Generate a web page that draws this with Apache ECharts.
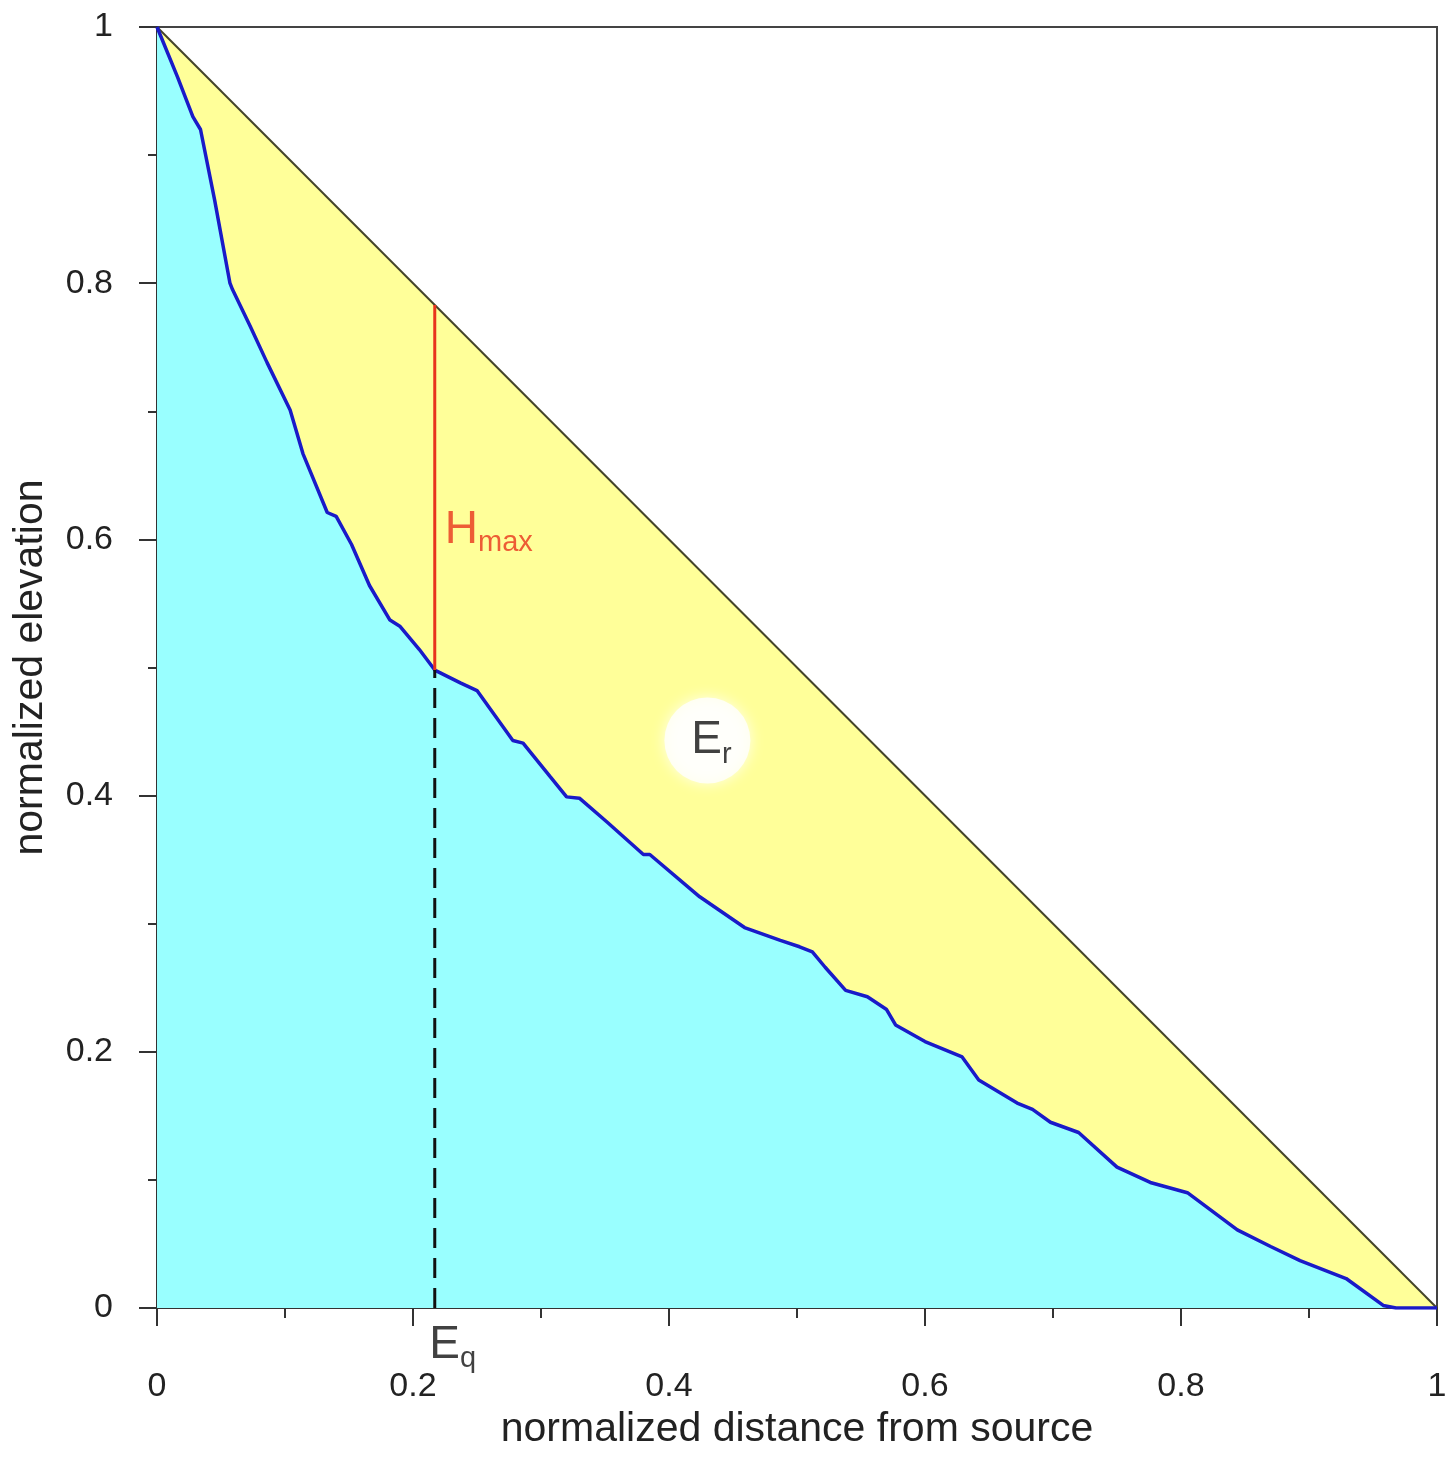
<!DOCTYPE html>
<html>
<head>
<meta charset="utf-8">
<script src="https://cdn.jsdelivr.net/npm/echarts@6/dist/echarts.min.js"></script>
<style>
  html, body { margin: 0; background: #fff; }
  #main { width: 1453px; height: 1459px; }
</style>
</head>
<body>
<div id="main"></div>
<script>
// longitudinal profile
var profileX = [0, 0.016, 0.028, 0.034, 0.045, 0.057, 0.059, 0.073, 0.086, 0.104, 0.114, 0.133,
  0.140, 0.152, 0.166, 0.182, 0.190, 0.205, 0.217, 0.237, 0.250, 0.278, 0.286, 0.307, 0.320,
  0.330, 0.352, 0.380, 0.385, 0.424, 0.459, 0.487, 0.502, 0.512, 0.522, 0.538, 0.555, 0.570,
  0.577, 0.600, 0.629, 0.642, 0.672, 0.684, 0.698, 0.720, 0.750, 0.776, 0.805, 0.844, 0.870,
  0.893, 0.929, 0.958, 0.968, 1];
var profileY = [1, 0.961, 0.930, 0.920, 0.865, 0.800, 0.795, 0.766, 0.738, 0.701, 0.667, 0.621,
  0.618, 0.596, 0.564, 0.537, 0.532, 0.514, 0.498, 0.488, 0.482, 0.443, 0.441, 0.415, 0.399,
  0.398, 0.379, 0.354, 0.354, 0.321, 0.297, 0.287, 0.282, 0.278, 0.266, 0.248, 0.243, 0.233,
  0.221, 0.208, 0.196, 0.178, 0.160, 0.155, 0.145, 0.137, 0.110, 0.098, 0.090, 0.061, 0.048,
  0.037, 0.023, 0.002, 0, 0];

// straight line from source to mouth
var lineX = [0, 1];
var lineY = [1, 0];

// Eq point and Hmax
var eqX = 0.217;
var eqY = 0.498;
var hmaxTop = 0.783;
var hmaxLabelY = 0.607;
var erPoint = [0.430, 0.443];

var font = '"Liberation Sans", Arial, sans-serif';

function pairs(xs, ys) {
  return xs.map(function (x, i) { return [x, ys[i]]; });
}

var chart = echarts.init(document.getElementById('main'));

var option = {
  animation: false,
  backgroundColor: '#fff',
  grid: {
    left: 157, right: 16, top: 27, bottom: 151,
    show: true, borderColor: '#444', borderWidth: 2
  },
  xAxis: {
    type: 'value', min: 0, max: 1, interval: 0.2,
    name: 'normalized distance from source',
    nameLocation: 'middle', nameGap: 98,
    nameTextStyle: { fontFamily: font, fontSize: 41, color: '#222' },
    axisLine: { lineStyle: { color: '#333', width: 2 } },
    axisTick: { inside: false, length: 18, lineStyle: { color: '#333', width: 2 } },
    minorTick: { show: true, splitNumber: 2, length: 10, lineStyle: { color: '#333', width: 2 } },
    splitLine: { show: false },
    axisLabel: { margin: 62, fontFamily: font, fontSize: 34, color: '#222' }
  },
  yAxis: {
    type: 'value', min: 0, max: 1, interval: 0.2,
    name: 'normalized elevation',
    nameLocation: 'middle', nameGap: 106,
    nameTextStyle: { fontFamily: font, fontSize: 41, color: '#222' },
    axisLine: { lineStyle: { color: '#333', width: 2 } },
    axisTick: { inside: false, length: 18, lineStyle: { color: '#333', width: 2 } },
    minorTick: { show: true, splitNumber: 2, length: 9, lineStyle: { color: '#333', width: 2 } },
    splitLine: { show: false },
    axisLabel: { margin: 44, fontFamily: font, fontSize: 34, color: '#222' }
  },
  series: [
    {
      // yellow triangle under the straight line
      type: 'line',
      data: pairs(lineX, lineY),
      showSymbol: false,
      lineStyle: { color: '#44442a', width: 2 },
      areaStyle: { color: '#ffff99', opacity: 1 },
      z: 1
    },
    {
      // the profile, cyan below
      type: 'line',
      data: pairs(profileX, profileY),
      showSymbol: false,
      lineStyle: { color: '#1a1ac8', width: 3.5 },
      areaStyle: { color: '#99ffff', opacity: 1 },
      z: 2
    },
    {
      // Hmax
      type: 'line',
      data: [[eqX, eqY], [eqX, hmaxTop]],
      showSymbol: false,
      lineStyle: { color: '#e8341c', width: 3 },
      z: 3
    },
    {
      // dashed drop to the axis
      type: 'line',
      data: [[eqX, 0], [eqX, eqY]],
      showSymbol: false,
      lineStyle: { color: '#111', width: 3, type: [20, 10] },
      z: 3
    },
    {
      type: 'scatter',
      symbolSize: 0,
      silent: true,
      clip: false,
      z: 5,
      data: [
        {
          value: [eqX, hmaxLabelY],
          label: {
            show: true, position: 'right', distance: 10,
            formatter: '{b|H}{s|max}',
            rich: {
              b: { fontFamily: font, fontSize: 46, color: '#e8341c' },
              s: { fontFamily: font, fontSize: 29, color: '#e8341c', padding: [26, 0, 0, 0] }
            }
          }
        },
        {
          value: [eqX, 0],
          label: {
            show: true, position: 'bottom', distance: 10, offset: [18, 0],
            formatter: '{b|E}{s|q}',
            rich: {
              b: { fontFamily: font, fontSize: 46, color: '#111' },
              s: { fontFamily: font, fontSize: 29, color: '#111', padding: [26, 0, 0, 0] }
            }
          }
        }
      ]
    },
    {
      // white disc for Er
      type: 'scatter',
      symbol: 'circle',
      symbolSize: 86,
      silent: true,
      z: 4,
      itemStyle: { color: '#fff', shadowBlur: 14, shadowColor: '#fff' },
      data: [
        {
          value: erPoint,
          label: {
            show: true, position: 'inside', offset: [4, 0],
            formatter: '{b|E}{s|r}',
            rich: {
              b: { fontFamily: font, fontSize: 46, color: '#111' },
              s: { fontFamily: font, fontSize: 29, color: '#111', padding: [28, 0, 0, 0] }
            }
          }
        }
      ]
    }
  ]
};

chart.setOption(option);
</script>
</body>
</html>
